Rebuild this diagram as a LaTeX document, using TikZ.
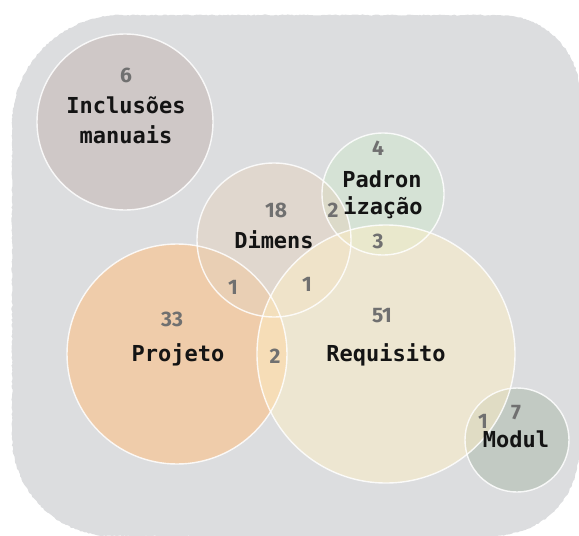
\documentclass[tikz,border=0pt]{standalone}
\usepackage{fontspec}
\setmainfont{Fira Sans}
\setmonofont{DejaVu Sans Mono}
\usepackage{tikz}
\usetikzlibrary{decorations.pathmorphing}
\tikzset{every node/.append style={inner sep=0pt, anchor=base}}
\definecolor{fundo}{RGB}{220,221,223}
\definecolor{corIncl}{RGB}{196,181,177}
\definecolor{corPadr}{RGB}{208,231,205}
\definecolor{corDim}{RGB}{228,211,191}
\definecolor{corProj}{RGB}{253,193,135}
\definecolor{corReq}{RGB}{254,239,197}
\definecolor{corMod}{RGB}{170,185,169}
\definecolor{cinza}{RGB}{112,112,112}
\definecolor{preto}{RGB}{20,20,20}

\begin{document}
\begin{tikzpicture}[x=1pt,y=-1pt,
  nome/.style={font=\fontsize{22}{26}\selectfont\ttfamily\bfseries, text=preto},
  conta/.style={font=\fontsize{21}{25}\selectfont\bfseries, text=cinza},
  bolha/.style={fill opacity=.5},
  borda/.style={draw=white, draw opacity=.85, line width=1.4pt}]
  \useasboundingbox (0,0) rectangle (579,536);

  \fill[fundo, decorate, decoration={random steps, segment length=2pt, amplitude=.6pt}]
  (12,125) .. controls (12,64.25) and (61.25,15) .. (122,15) -- (500,15)
  .. controls (544.2,15) and (580,50.8) .. (580,95) -- (580,440)
  .. controls (580,500) and (545,537) .. (480,537) -- (112,536)
  .. controls (56.8,536) and (12,491.2) .. (12,436) -- cycle;

  \fill[corIncl, bolha] (125,122) circle (88pt);
  \fill[corMod, bolha] (517,440) circle (52pt);
  \fill[corPadr, bolha] (383,194) circle (61pt);
  \fill[corProj, bolha, fill opacity=.6] (177,354) circle (110pt);
  \fill[corDim, bolha] (274,240) circle (77pt);
  \fill[corReq, bolha] (386,354) circle (129pt);

%  \draw[borda] (0,0) circle (10pt);
  \draw[borda] (125,122) circle (88pt);
  \draw[borda] (517,440) circle (52pt);
  \draw[borda] (383,194) circle (61pt);
  \draw[borda] (177,354) circle (110pt);
  \draw[borda] (274,240) circle (77pt);
  \draw[borda] (386,354) circle (129pt);

  \node[conta] (nIncl) at (126,82) {6};
  \node[nome] (tIncl) at (126,113) {Inclusões};
  \node[nome] (tIncl2) at (126,143) {manuais};

  \node[conta] (nPadr) at (378,155) {4};
  \node[nome] (tPadr) at (382,187) {Padron};
  \node[nome] (tPadr2) at (383,214) {ização};

  \node[conta] (nDim) at (276,217) {18};
  \node[nome] (tDim) at (274,248) {Dimens};
  \node[conta] (nDimPadr) at (333,217) {2};
  \node[conta] (nPadrReq) at (378,248) {3};
  \node[conta] (nProjDim) at (233,294) {1};
  \node[conta] (nDimReq) at (307,291) {1};

  \node[conta] (nProj) at (172,326) {33};
  \node[nome] (tProj) at (178,361) {Projeto};
  \node[conta] (nProjReq) at (275,363) {2};

  \node[conta] (nReq) at (382,322) {51};
  \node[nome] (tReq) at (386,361) {Requisito};

  \node[conta] (nReqMod) at (483,428) {1};
  \node[conta] (nMod) at (516,419) {7};
  \node[nome] (tMod) at (516,447) {Modul};

\end{tikzpicture}
\end{document}
